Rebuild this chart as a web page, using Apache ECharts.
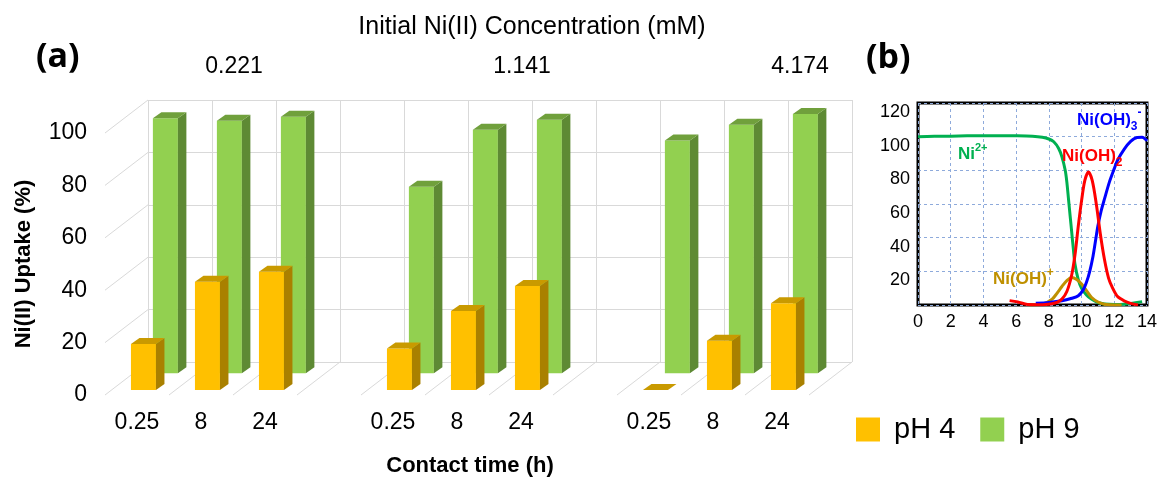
<!DOCTYPE html>
<html>
<head>
<meta charset="utf-8">
<script src="https://cdn.jsdelivr.net/npm/echarts@6/dist/echarts.min.js"></script>
<style>
  html, body { margin: 0; padding: 0; background: #fff; }
  #chart { width: 1165px; height: 485px; }
</style>
</head>
<body>
<div id="chart"></div>
<script>
// (a) uptake data
const concentrations = ['0.221', '1.141', '4.174'];
const times = ['0.25', '8', '24'];
// % uptake, grouped by concentration, times 0.25 / 8 / 24 h
const uptakePH4 = [17.6, 41.3, 45.2, 15.9, 30.2, 39.7, 0, 18.8, 33.1];
const uptakePH9 = [97.3, 96.4, 97.9, 71.2, 92.9, 96.7, 88.8, 94.8, 98.9];
const uptakeTicks = [0, 20, 40, 60, 80, 100];

// (b) speciation, [pH, %]
const ni2 = [[0, 100], [1, 100.2], [2, 100.3], [3, 100.5], [4, 100.6], [5, 100.6], [6, 100.5], [7, 100.2],
  [7.6, 99.6], [8.0, 98.6], [8.3, 97], [8.6, 93], [8.8, 88], [9.0, 80], [9.1, 73], [9.2, 63], [9.3, 53],
  [9.4, 43], [9.5, 33], [9.6, 24], [9.8, 15], [10.0, 10], [10.3, 6], [10.6, 3.5], [11.0, 1.5], [11.4, 0.6],
  [12.0, 0.3], [12.6, 0.5], [13.2, 1.2], [13.7, 2]];
const niOH = [[6.8, 0], [7.6, 0.5], [8.2, 3.5], [8.5, 7], [8.8, 11], [9.1, 14.5], [9.4, 16.4], [9.7, 15.2],
  [10.0, 12.5], [10.3, 8.5], [10.6, 4.6], [11.0, 1.8], [11.4, 0.4], [12.0, 0], [12.45, 0]];
const niOH2 = [[5.6, 2.6], [6.1, 1.8], [6.7, 0.3], [7.5, 0.2], [8.2, 0.8], [8.5, 1.5], [8.8, 3.5], [9.1, 8],
  [9.4, 18], [9.6, 30], [9.8, 47], [10.0, 62], [10.2, 74], [10.42, 79], [10.65, 74], [10.9, 60], [11.15, 42],
  [11.4, 27], [11.65, 16], [11.9, 10], [12.2, 5], [12.6, 2.5], [13.0, 1], [13.45, 0]];
const niOH3 = [[7.2, 1], [8.0, 1.5], [8.8, 2.5], [9.4, 4], [9.8, 5.5], [10.1, 9], [10.3, 13.5], [10.5, 20],
  [10.7, 29], [10.85, 38], [11.0, 47], [11.2, 56], [11.4, 63], [11.7, 73], [12.0, 81], [12.2, 86],
  [12.6, 92.5], [13.0, 97.2], [13.4, 99.5], [13.7, 99.6], [14.0, 97.6]];

// categories: 3 times per group, blank slot between groups
const categories = [];
const catIndex = [];
concentrations.forEach((c, g) => {
  times.forEach(t => { catIndex.push(categories.length); categories.push(t); });
  if (g < concentrations.length - 1) categories.push('');
});

// fake 3d: offset of the front plane from the back wall, bar size
const DX = -43, DY = 33;
const BW = 25, KX = 8.5, KY = -6;
const FONT = '"Liberation Sans", Arial, sans-serif';

function line(x1, y1, x2, y2) {
  return { type: 'line', shape: { x1, y1, x2, y2 }, style: { stroke: '#d9d9d9', lineWidth: 1 } };
}

function bar3d(depth, front, top, side) {
  return function (params, api) {
    const c = api.coord([api.value(0), api.value(1)]);
    const b = api.coord([api.value(0), 0]);
    const x0 = c[0] + DX * depth - BW / 2, x1 = x0 + BW;
    const yt = c[1] + DY * depth, yb = b[1] + DY * depth;
    return {
      type: 'group',
      children: [
        { type: 'polygon', shape: { points: [[x0, yb], [x1, yb], [x1, yt], [x0, yt]] }, style: { fill: front } },
        { type: 'polygon', shape: { points: [[x1, yb], [x1 + KX, yb + KY], [x1 + KX, yt + KY], [x1, yt]] }, style: { fill: side } },
        { type: 'polygon', shape: { points: [[x0, yt], [x1, yt], [x1 + KX, yt + KY], [x0 + KX, yt + KY]] }, style: { fill: top } }
      ]
    };
  };
}

let myChart = echarts.init(document.getElementById('chart'));
let options = {
  backgroundColor: '#fff',
  animation: false,
  textStyle: { fontFamily: FONT, color: '#000' },
  title: {
    text: 'Initial Ni(II) Concentration (mM)',
    left: 527, top: 10, textAlign: 'center',
    textStyle: { fontFamily: FONT, fontSize: 25, fontWeight: 'normal', color: '#000' }
  },
  legend: {
    data: ['pH 4', 'pH 9'],
    left: 851, top: 410,
    icon: 'rect', itemWidth: 24, itemHeight: 24, itemGap: 25,
    textStyle: { fontFamily: FONT, fontSize: 29, color: '#000', padding: [0, 0, 0, 9] }
  },
  grid: [
    // back wall
    { left: 148, right: 313, top: 100, bottom: 123 },
    // front plane (labels)
    { left: 105, right: 356, top: 133, bottom: 90 },
    // (b)
    { left: 918, right: 18, top: 103, bottom: 180, show: true, borderColor: '#000', borderWidth: 3 }
  ],
  xAxis: [
    {
      gridIndex: 0, type: 'category', data: categories,
      axisLine: { show: false }, axisTick: { show: false }, axisLabel: { show: false, interval: 0 },
      splitLine: { show: true, interval: 0, lineStyle: { color: '#d9d9d9' } }
    },
    {
      gridIndex: 1, type: 'category', data: categories,
      axisLine: { show: false }, axisTick: { show: false },
      axisLabel: { interval: 0, margin: 16, fontSize: 23, color: '#000', fontFamily: FONT },
      name: 'Contact time (h)', nameLocation: 'middle', nameGap: 60,
      nameTextStyle: { fontFamily: FONT, fontSize: 22, fontWeight: 'bold', color: '#000', padding: [0, 0, 0, 26] }
    },
    {
      gridIndex: 2, type: 'value', min: 0, max: 14, interval: 2,
      axisLine: { show: false }, axisTick: { show: false },
      axisLabel: { margin: 8, fontSize: 18, color: '#000', fontFamily: FONT },
      splitLine: { show: true, lineStyle: { color: '#8eaadb', type: [3, 3], width: 1 } }
    }
  ],
  yAxis: [
    {
      gridIndex: 0, type: 'value', min: 0, max: 100, interval: 20,
      axisLine: { show: false }, axisTick: { show: false }, axisLabel: { show: false },
      splitLine: { show: true, lineStyle: { color: '#d9d9d9' } }
    },
    {
      gridIndex: 1, type: 'value', min: 0, max: 100, interval: 20,
      axisLine: { show: false }, axisTick: { show: false }, splitLine: { show: false },
      axisLabel: { margin: 18, fontSize: 23, color: '#000', fontFamily: FONT },
      name: 'Ni(II) Uptake (%)', nameLocation: 'middle', nameGap: 70, nameRotate: 90,
      nameTextStyle: { fontFamily: FONT, fontSize: 22, fontWeight: 'bold', color: '#000' }
    },
    {
      gridIndex: 2, type: 'value', min: 0, max: 120, interval: 20,
      axisLine: { show: false }, axisTick: { show: false },
      // labels in the source sit a little below their gridlines
      axisLabel: { margin: 8, fontSize: 18, color: '#000', fontFamily: FONT, showMinLabel: false, verticalAlign: 'top' },
      splitLine: { show: true, lineStyle: { color: '#8eaadb', type: [3, 3], width: 1 } }
    }
  ],
  series: [
    {
      name: 'frame', type: 'custom', xAxisIndex: 0, yAxisIndex: 0, silent: true,
      data: [[0, 0]],
      renderItem(params, api) {
        const bw = api.size([1, 0])[0];
        const x0 = api.coord([0, 0])[0] - bw / 2;
        const y0 = api.coord([0, 0])[1];
        const children = [];
        uptakeTicks.forEach(v => {
          const y = api.coord([0, v])[1];
          children.push(line(x0, y, x0 + DX, y + DY));
        });
        for (let k = 1; k <= categories.length; k++) {
          const x = x0 + k * bw;
          children.push(line(x, y0, x + DX, y0 + DY));
        }
        return { type: 'group', children };
      }
    },
    {
      name: 'pH 9', type: 'custom', xAxisIndex: 0, yAxisIndex: 0,
      itemStyle: { color: '#92D050' },
      data: uptakePH9.map((v, i) => [catIndex[i], v]),
      renderItem: bar3d(0.34, '#92D050', '#70A03C', '#5E8A34')
    },
    {
      name: 'pH 4', type: 'custom', xAxisIndex: 0, yAxisIndex: 0,
      itemStyle: { color: '#FFC000' },
      data: uptakePH4.map((v, i) => [catIndex[i], v]),
      renderItem: bar3d(0.85, '#FFC000', '#C99A00', '#A98000')
    },
    { name: 'Ni2+', type: 'line', xAxisIndex: 2, yAxisIndex: 2, data: ni2, showSymbol: false, smooth: 0.3, lineStyle: { color: '#00B050', width: 3 }, itemStyle: { color: '#00B050' } },
    { name: 'Ni(OH)+', type: 'line', xAxisIndex: 2, yAxisIndex: 2, data: niOH, showSymbol: false, smooth: 0.3, lineStyle: { color: '#BF9000', width: 3 }, itemStyle: { color: '#BF9000' } },
    { name: 'Ni(OH)3-', type: 'line', xAxisIndex: 2, yAxisIndex: 2, data: niOH3, showSymbol: false, smooth: 0.3, lineStyle: { color: '#0000FF', width: 3 }, itemStyle: { color: '#0000FF' } },
    { name: 'Ni(OH)2', type: 'line', xAxisIndex: 2, yAxisIndex: 2, data: niOH2, showSymbol: false, smooth: 0.3, lineStyle: { color: '#FF0000', width: 3 }, itemStyle: { color: '#FF0000' } }
  ],
  graphic: [
    { type: 'text', x: 36, y: 57, style: { text: '(a)', font: 'bold 34px "Open Sans"', fill: '#000', verticalAlign: 'middle' } },
    { type: 'text', x: 866, y: 58, style: { text: '(b)', font: 'bold 34px "Open Sans"', fill: '#000', verticalAlign: 'middle' } },
    { type: 'text', x: 234, y: 67, style: { text: concentrations[0], font: '23px ' + FONT, fill: '#000', align: 'center', verticalAlign: 'middle' } },
    { type: 'text', x: 522, y: 67, style: { text: concentrations[1], font: '23px ' + FONT, fill: '#000', align: 'center', verticalAlign: 'middle' } },
    { type: 'text', x: 800, y: 67, style: { text: concentrations[2], font: '23px ' + FONT, fill: '#000', align: 'center', verticalAlign: 'middle' } },
    {
      type: 'text', x: 958, y: 154, z: 10,
      style: {
        text: '{m|Ni}{s|2+}', verticalAlign: 'middle',
        rich: {
          m: { fontFamily: FONT, fontSize: 17, fontWeight: 'bold', fill: '#00B050', lineHeight: 24, verticalAlign: 'middle' },
          s: { fontFamily: FONT, fontSize: 11, fontWeight: 'bold', fill: '#00B050', verticalAlign: 'top' }
        }
      }
    },
    {
      type: 'text', x: 1062, y: 156, z: 10,
      style: {
        text: '{m|Ni(OH)}{s|2}', verticalAlign: 'middle',
        rich: {
          m: { fontFamily: FONT, fontSize: 17, fontWeight: 'bold', fill: '#FF0000', lineHeight: 26, verticalAlign: 'middle' },
          s: { fontFamily: FONT, fontSize: 12, fontWeight: 'bold', fill: '#FF0000', verticalAlign: 'bottom' }
        }
      }
    },
    {
      type: 'text', x: 1077, y: 120, z: 10,
      style: {
        text: '{m|Ni(OH)}{b|3}{s|-}', verticalAlign: 'middle',
        rich: {
          m: { fontFamily: FONT, fontSize: 17, fontWeight: 'bold', fill: '#0000FF', lineHeight: 26, verticalAlign: 'middle' },
          b: { fontFamily: FONT, fontSize: 12, fontWeight: 'bold', fill: '#0000FF', verticalAlign: 'bottom' },
          s: { fontFamily: FONT, fontSize: 12, fontWeight: 'bold', fill: '#0000FF', verticalAlign: 'top' }
        }
      }
    },
    {
      type: 'text', x: 993, y: 279, z: 10,
      style: {
        text: '{m|Ni(OH)}{s|+}', verticalAlign: 'middle',
        rich: {
          m: { fontFamily: FONT, fontSize: 17, fontWeight: 'bold', fill: '#BF9000', lineHeight: 24, verticalAlign: 'middle' },
          s: { fontFamily: FONT, fontSize: 12, fontWeight: 'bold', fill: '#BF9000', verticalAlign: 'top' }
        }
      }
    }
  ]
};
myChart.setOption(options);
</script>
</body>
</html>
